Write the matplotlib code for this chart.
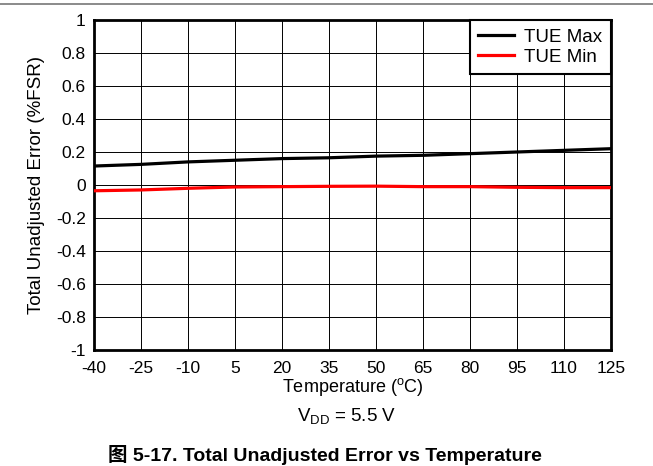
import matplotlib
matplotlib.use("Agg")
import matplotlib.pyplot as plt
from matplotlib.lines import Line2D

temps = [-40, -25, -10, 5, 20, 35, 50, 65, 80, 95, 110, 125]
tue_max = [0.115, 0.125, 0.14, 0.15, 0.16, 0.165, 0.175, 0.18, 0.19, 0.20, 0.21, 0.22]
tue_min = [-0.035, -0.03, -0.02, -0.012, -0.01, -0.008, -0.007, -0.01, -0.01, -0.014, -0.016, -0.016]
y_ticks = [1, 0.8, 0.6, 0.4, 0.2, 0, -0.2, -0.4, -0.6, -0.8, -1]
y_labels = ["1", "0.8", "0.6", "0.4", "0.2", "0", "-0.2", "-0.4", "-0.6", "-0.8", "-1"]

plt.rcParams['font.family'] = ['Liberation Sans', 'Noto Sans CJK SC', 'DejaVu Sans']
FS = 12.5

fig = plt.figure(figsize=(6.53, 4.66), dpi=100)
ax = fig.add_axes([94/653, 1-350/466, (611-94)/653, (350-20)/466])

ax.plot(temps, tue_max, color='black', lw=2.3, label='TUE Max', zorder=3)
ax.plot(temps, tue_min, color='#ff0000', lw=2.3, label='TUE Min', zorder=3)

ax.set_xlim(-40, 125)
ax.set_ylim(-1, 1)
ax.set_xticks(temps)
ax.set_xticklabels([str(t) for t in temps], fontsize=FS)
ax.set_yticks(y_ticks)
ax.set_yticklabels(y_labels, fontsize=FS)
ax.tick_params(axis='x', length=0, pad=8)
ax.tick_params(axis='y', length=0, pad=6)
ax.grid(True, color='black', lw=0.7)
ax.set_axisbelow(True)
for s in ax.spines.values():
    s.set_linewidth(2.0)

ax.set_xlabel('Temperature ($\\mathregular{^{o}}$C)', fontsize=13, labelpad=0)
ax.set_ylabel('Total Unadjusted Error (%FSR)', fontsize=13.5, labelpad=8)

leg = ax.legend(loc='upper right', fontsize=13.5, frameon=True, fancybox=False,
                borderaxespad=0, handlelength=1.9, handletextpad=0.55,
                borderpad=0.45, labelspacing=0.15)
leg.get_frame().set_edgecolor('black')
leg.get_frame().set_linewidth(1.5)
leg.get_frame().set_alpha(1)

fig.text(347/653, 1-416/466, '$\\mathregular{V_{DD}}$ = 5.5 V', fontsize=13.5,
         ha='center', va='center')
fig.text(325/653, 1-455/466, '图 5-17. Total Unadjusted Error vs Temperature',
         fontsize=14, fontweight='bold', ha='center', va='center',
         family=['Liberation Sans', 'Noto Sans CJK SC'])

fig.add_artist(Line2D([0, 1], [1-4/466, 1-4/466], color='#777777', lw=1.2,
                      transform=fig.transFigure))

fig.savefig('out.png', dpi=100)
